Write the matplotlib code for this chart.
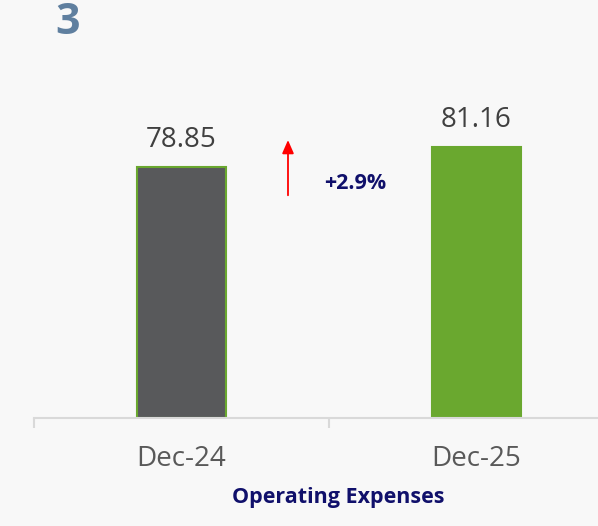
import matplotlib
matplotlib.use("Agg")
import matplotlib.pyplot as plt

categories = ["Dec-24", "Dec-25"]
values = [78.85, 81.16]
bar_colors = ["#58595b", "#6aa82f"]
edge_colors = ["#6aa82f", "#6aa82f"]
title_text = "3"
xlabel_text = "Operating Expenses"
change_pct = (values[1] - values[0]) / values[0] * 100

W, H = 598, 526
fig = plt.figure(figsize=(W / 100, H / 100), dpi=100, facecolor="#f8f8f8")
bg = "#f8f8f8"

# axes placement in pixels
left_px, right_px = 34, 598
bottom_px, top_px = 418, 52
ax = fig.add_axes([left_px / W, 1 - bottom_px / H, (right_px - left_px) / W, (bottom_px - top_px) / H])
ax.set_facecolor(bg)

ymin = 50
px_per_unit = 8.70
ymax = ymin + (bottom_px - top_px) / px_per_unit
cat_w = 295
xmax = (right_px - left_px) / cat_w - 0.5

x = list(range(len(categories)))
ax.bar(x, [v - ymin for v in values], bottom=ymin, width=0.30,
       color=bar_colors, edgecolor=edge_colors, linewidth=1.5, zorder=2)

ax.set_xlim(-0.5, xmax)
ax.set_ylim(ymin, ymax)

for xi, v in zip(x, values):
    ax.annotate(f"{v:.2f}", (xi, v), xytext=(0, 14.4), textcoords="offset points",
                ha="center", va="baseline", fontsize=20, color="#404040", family="Open Sans")

# arrow and percent change
ax.annotate("", xy=(0.361, 81.95), xytext=(0.361, 75.6),
            arrowprops=dict(arrowstyle="-|>,head_width=0.35,head_length=0.8", color="#ff0000", lw=1.3,
                            shrinkA=0, shrinkB=0))
ax.text(0.59, 77.0, f"+{change_pct:.1f}%", ha="center", va="center", fontsize=15.5,
        fontweight="bold", color="#10106b", family="Open Sans")

for s in ["left", "right", "top"]:
    ax.spines[s].set_visible(False)
ax.spines["bottom"].set_color("#d9d9d9")
ax.spines["bottom"].set_linewidth(1.5)
ax.set_yticks([])
ax.set_xticks([-0.5, 0.5], minor=False)
ax.set_xticklabels(["", ""])
ax.tick_params(axis="x", length=7, width=1.5, color="#d9d9d9", direction="out")
for xi, c in zip(x, categories):
    ax.text(xi, ymin - 41 / px_per_unit, c, ha="center", va="center", fontsize=20,
            color="#595959", family="Open Sans")

fig.text(338 / W, 1 - 498 / H, xlabel_text, ha="center", va="center", fontsize=15.5,
         fontweight="bold", color="#10106b", family="Open Sans")
fig.text(55 / W, 1 - 23 / H, title_text, ha="left", va="center", fontsize=31,
         fontweight="bold", color="#5f7f9f", family="Open Sans")

fig.savefig("out.png", dpi=100, facecolor=fig.get_facecolor())
